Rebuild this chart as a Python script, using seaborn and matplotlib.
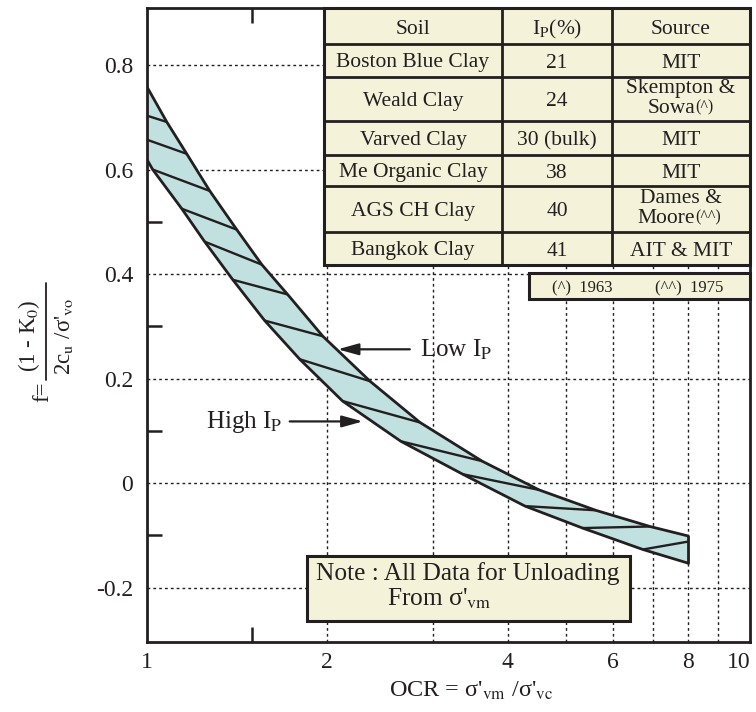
import matplotlib
matplotlib.use("Agg")
import numpy as np
import pandas as pd
import matplotlib.pyplot as plt
import seaborn as sns
from matplotlib.patches import Rectangle
from matplotlib.lines import Line2D
from matplotlib.ticker import FixedLocator, NullFormatter
from matplotlib.transforms import ScaledTranslation

# ---------------- data ----------------
upper_ocr = [1.0, 1.079, 1.165, 1.273, 1.412, 1.555, 1.717, 1.966, 2.357, 2.857, 3.627, 4.515, 5.614, 6.915, 8.0]
upper_f = [0.758, 0.691, 0.630, 0.559, 0.485, 0.418, 0.361, 0.281, 0.195, 0.116, 0.042, -0.013, -0.052, -0.083, -0.101]

lower_ocr = [1.0, 1.022, 1.143, 1.248, 1.391, 1.572, 1.799, 2.121, 2.654, 3.367, 4.278, 5.337, 6.73, 8.0]
lower_f = [0.619, 0.600, 0.525, 0.462, 0.389, 0.311, 0.237, 0.157, 0.080, 0.017, -0.044, -0.086, -0.127, -0.153]

hatch_low_ocr = [1.0, 1.0, 1.022, 1.143, 1.248, 1.391, 1.572, 1.799, 2.121, 2.654, 3.367, 4.278, 5.337, 6.73]
hatch_low_f = [0.703, 0.657, 0.600, 0.525, 0.462, 0.389, 0.311, 0.237, 0.157, 0.080, 0.017, -0.044, -0.086, -0.127]
hatch_up_ocr = [1.079, 1.165, 1.273, 1.412, 1.555, 1.717, 1.966, 2.357, 2.857, 3.627, 4.515, 5.614, 6.915, 8.0]
hatch_up_f = [0.691, 0.630, 0.559, 0.485, 0.418, 0.361, 0.281, 0.195, 0.116, 0.042, -0.013, -0.052, -0.083, -0.112]

x_tick_values = [1, 2, 4, 6, 8, 10]
x_tick_labels = ["1", "2", "4", "6", "8", "10"]
x_grid_values = [2, 3, 4, 5, 6, 7, 8, 9]
x_minor_ticks = [1.5]
y_tick_values = [0.8, 0.6, 0.4, 0.2, 0.0, -0.2]
y_tick_labels = ["0.8", "0.6", "0.4", "0.2", "0", "-0.2"]
y_minor_ticks = [0.5, 0.3, 0.1, -0.1]

table_header = ["Soil", r"I$_\mathrm{P}$(%)", "Source"]
soils = ["Boston Blue Clay", "Weald Clay", "Varved Clay", "Me Organic Clay", "AGS CH Clay", "Bangkok Clay"]
ip_values = ["21", "24", "30 (bulk)", "38", "40", "41"]
sources = [["MIT"], ["Skempton &", "Sowa"], ["MIT"], ["MIT"], ["Dames &", "Moore"], ["AIT & MIT"]]
source_notes = ["", "(^)", "", "", "(^^)", ""]
footnotes = ["(^)  1963", "(^^)  1975"]

low_label = r"Low I$_\mathrm{P}$"
high_label = r"High I$_\mathrm{P}$"
note_lines = ["Note : All Data for Unloading", r"From σ'$_{\mathrm{vm}}$"]
x_label = r"OCR = σ'$_{\mathrm{vm}}$ /σ'$_{\mathrm{vc}}$"
y_label_lhs = "f="
y_label_num = r"(1 - K$_0$)"
y_label_den = r"2c$_\mathrm{u}$ /σ'$_{\mathrm{vo}}$"

# ---------------- style ----------------
sns.set_theme(style="white")
plt.rcParams["font.family"] = ["Liberation Serif", "DejaVu Serif"]
plt.rcParams["mathtext.fontset"] = "stix"
plt.rcParams["axes.unicode_minus"] = False

INK = "#231F20"
BAND = "#C0E1DF"
CREAM = "#F4F3DA"

W, H = 756, 712
fig = plt.figure(figsize=(W / 100, H / 100), dpi=100)
fig.patch.set_facecolor("white")
AX_L, AX_R, AX_T, AX_B = 147, 750, 8, 642
ax = fig.add_axes([AX_L / W, (H - AX_B) / H, (AX_R - AX_L) / W, (AX_B - AX_T) / H])
ax.set_facecolor("white")


def fx(px):
    return (px - AX_L) / (AX_R - AX_L)


def fy(py):
    return (AX_B - py) / (AX_B - AX_T)


ax.set_xscale("log")
ax.set_xlim(1, 10.16)
ax.set_ylim(-0.304, 0.909)

# grid
for v in y_tick_values:
    ax.axhline(v, color=INK, lw=1.0, ls=(0, (2, 2.2)), zorder=1)
for v in x_grid_values:
    ax.axvline(v, color=INK, lw=1.0, ls=(0, (2, 2.2)), zorder=1)

# band
poly_x = list(upper_ocr) + list(lower_ocr[::-1])
poly_y = list(upper_f) + list(lower_f[::-1])
ax.fill(poly_x, poly_y, facecolor=BAND, edgecolor="none", zorder=2)

upper_df = pd.DataFrame({"OCR": upper_ocr, "f": upper_f})
lower_df = pd.DataFrame({"OCR": lower_ocr, "f": lower_f})
sns.lineplot(data=upper_df, x="OCR", y="f", estimator=None, sort=False, color=INK,
             lw=2.0, ax=ax, zorder=4)
sns.lineplot(data=lower_df, x="OCR", y="f", estimator=None, sort=False, color=INK,
             lw=2.0, ax=ax, zorder=4)
ax.plot([upper_ocr[-1], lower_ocr[-1]], [upper_f[-1], lower_f[-1]], color=INK, lw=2.0, zorder=4)
for a, b, c, d in zip(hatch_low_ocr, hatch_low_f, hatch_up_ocr, hatch_up_f):
    ax.plot([a, c], [b, d], color=INK, lw=1.7, zorder=3, solid_capstyle="butt")

# ticks
ax.set_xticks(x_tick_values, labels=x_tick_labels)
ax.xaxis.set_minor_locator(FixedLocator(x_minor_ticks))
ax.xaxis.set_minor_formatter(NullFormatter())
ax.set_yticks(y_tick_values, labels=y_tick_labels)
ax.yaxis.set_minor_locator(FixedLocator(y_minor_ticks))
ax.yaxis.set_minor_formatter(NullFormatter())
ax.tick_params(axis="x", which="major", length=0, pad=7, labelsize=17, labelcolor=INK)
ax.tick_params(axis="x", which="minor", direction="in", length=11, width=1.8, color=INK,
               top=True, bottom=True)
ax.tick_params(axis="y", which="major", length=0, pad=10, labelsize=17, labelcolor=INK)
ax.tick_params(axis="y", which="minor", direction="in", length=11, width=1.8, color=INK,
               left=True, right=False)
# keep the last x label ("10") inside the canvas
last_tick = ax.xaxis.get_major_ticks()[-1]
last_tick.label1.set_transform(last_tick.label1.get_transform()
                               + ScaledTranslation(-5 / 72, 0, fig.dpi_scale_trans))
for s in ax.spines.values():
    s.set_color(INK)
    s.set_linewidth(2.0)
    s.set_zorder(5)
ax.set_xlabel("")
ax.set_ylabel("")

# axis labels
fig.text(471 / W, 1 - 691 / H, x_label, ha="center", va="center", fontsize=17.5, color=INK)
fig.text(29 / W, 1 - 336 / H, y_label_num, ha="center", va="center", fontsize=16.5,
         rotation=90, color=INK)
fig.text(64 / W, 1 - 336 / H, y_label_den, ha="center", va="center", fontsize=16.5,
         rotation=90, color=INK)
fig.add_artist(Line2D([46 / W, 46 / W], [1 - 283 / H, 1 - 380 / H], transform=fig.transFigure,
                      color=INK, lw=1.3))
fig.text(43 / W, 1 - 392 / H, y_label_lhs, ha="center", va="center", fontsize=16.5,
         rotation=90, color=INK)

# arrows and labels
arrow_kw = dict(arrowstyle="-|>,head_length=0.9,head_width=0.25", color=INK, lw=1.6,
                mutation_scale=14, shrinkA=0, shrinkB=0)
ax.annotate("", xy=(2.082, 0.256), xytext=(2.747, 0.256), arrowprops=arrow_kw, zorder=6)
ax.text(2.855, 0.242, low_label, ha="left", va="baseline", fontsize=18, color=INK)
ax.annotate("", xy=(2.293, 0.118), xytext=(1.731, 0.118), arrowprops=arrow_kw, zorder=6)
ax.text(1.685, 0.105, high_label, ha="right", va="baseline", fontsize=18, color=INK)

# ---------------- table ----------------
tr = ax.transAxes
col_px = [324, 502, 612, 750]
row_px = [8, 44, 77, 121, 155, 186, 232, 265]
ax.add_patch(Rectangle((fx(col_px[0]), fy(row_px[-1])), fx(col_px[-1]) - fx(col_px[0]),
                       fy(row_px[0]) - fy(row_px[-1]), transform=tr, facecolor=CREAM,
                       edgecolor=INK, lw=2.2, zorder=8, clip_on=False))
for cx in col_px[1:-1]:
    ax.add_line(Line2D([fx(cx), fx(cx)], [fy(row_px[0]), fy(row_px[-1])], transform=tr,
                       color=INK, lw=2.0, zorder=9, clip_on=False))
for ry in row_px[1:-1]:
    ax.add_line(Line2D([fx(col_px[0]), fx(col_px[-1])], [fy(ry), fy(ry)], transform=tr,
                       color=INK, lw=2.0, zorder=9, clip_on=False))

col_centers = [(col_px[i] + col_px[i + 1]) / 2 for i in range(3)]
TFS = 15.5
for i, txt in enumerate(table_header):
    cy = (row_px[0] + row_px[1]) / 2
    ax.text(fx(col_centers[i]), fy(cy + 8), txt, transform=tr, ha="center", va="baseline",
            fontsize=TFS, color=INK, zorder=10)

for r in range(len(soils)):
    cy = (row_px[r + 1] + row_px[r + 2]) / 2
    ax.text(fx(col_centers[0]), fy(cy + 7), soils[r], transform=tr, ha="center",
            va="baseline", fontsize=TFS, color=INK, zorder=10)
    ax.text(fx(col_centers[1]), fy(cy + 7), ip_values[r], transform=tr, ha="center",
            va="baseline", fontsize=TFS, color=INK, zorder=10)
    src = sources[r]
    if len(src) == 1:
        ax.text(fx(col_centers[2]), fy(cy + 7), src[0], transform=tr, ha="center",
                va="baseline", fontsize=TFS, color=INK, zorder=10)
    else:
        ax.text(fx(col_centers[2]), fy(cy - 6), src[0], transform=tr, ha="center",
                va="baseline", fontsize=TFS, color=INK, zorder=10)
        junction = 695
        ax.text(fx(junction), fy(cy + 13.7), src[1], transform=tr, ha="right",
                va="baseline", fontsize=TFS, color=INK, zorder=10)
        ax.text(fx(junction + 0.5), fy(cy + 12), source_notes[r], transform=tr, ha="left",
                va="baseline", fontsize=11.5, color=INK, zorder=10)

# footnote box
ax.add_patch(Rectangle((fx(529), fy(299)), fx(750) - fx(529), fy(273) - fy(299), transform=tr,
                       facecolor=CREAM, edgecolor=INK, lw=2.2, zorder=8, clip_on=False))
ax.text(fx(552), fy(292), footnotes[0], transform=tr, ha="left", va="baseline", fontsize=12,
        color=INK, zorder=10)
ax.text(fx(655), fy(292), footnotes[1], transform=tr, ha="left", va="baseline", fontsize=12,
        color=INK, zorder=10)

# note box
ax.add_patch(Rectangle((fx(307), fy(621)), fx(630) - fx(307), fy(556) - fy(621), transform=tr,
                       facecolor=CREAM, edgecolor=INK, lw=2.2, zorder=8, clip_on=False))
ax.text(fx(316), fy(580), note_lines[0], transform=tr, ha="left", va="baseline", fontsize=18.3,
        color=INK, zorder=10)
ax.text(fx(387), fy(606), note_lines[1], transform=tr, ha="left", va="baseline", fontsize=18.3,
        color=INK, zorder=10)

fig.savefig("out.png", dpi=100, facecolor="white")
